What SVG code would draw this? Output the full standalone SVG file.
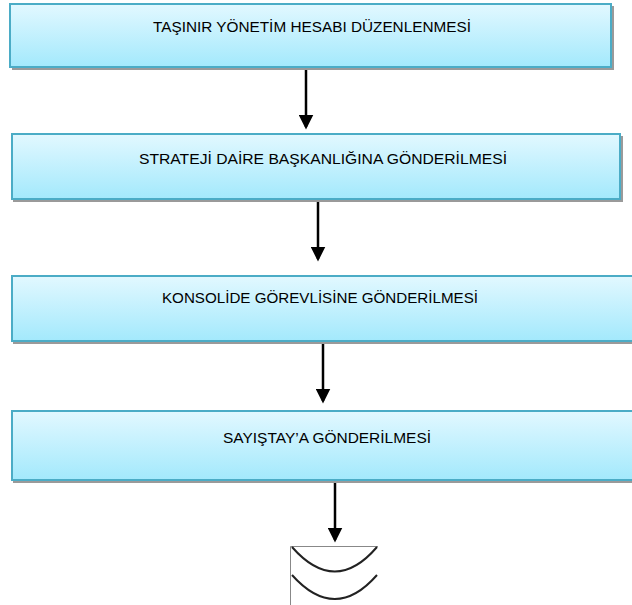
<svg xmlns="http://www.w3.org/2000/svg" width="632" height="605" viewBox="0 0 632 605">
<style>
.box{fill:url(#g);stroke:#4bacc6;stroke-width:2}
.sh{fill:#9a9a9a}
.t{font-family:"Liberation Sans","Open Sans",sans-serif;font-size:15px;fill:#000;text-anchor:middle}
.c{stroke:#000;stroke-width:2.5;fill:none}
</style>
<defs>
<linearGradient id="g" x1="0" y1="0" x2="0" y2="1">
<stop offset="0" stop-color="#e2f8ff"/>
<stop offset="1" stop-color="#a3e9fc"/>
</linearGradient>
<marker id="ah" markerWidth="6" markerHeight="6" refX="5" refY="3" orient="auto" markerUnits="strokeWidth" viewBox="0 0 6 6">
<path d="M0,0 L6,3 L0,6 Z" fill="#000"/>
</marker>
</defs>
<g id="n1">
<rect class="sh" x="12" y="6" width="602" height="64"/>
<rect class="box" x="10" y="4" width="601" height="63"/>
<text class="t" x="312" y="32" textLength="318" lengthAdjust="spacingAndGlyphs">TAŞINIR YÖNETİM HESABI DÜZENLENMESİ</text>
</g>
<g id="n2">
<rect class="sh" x="13" y="136" width="610" height="66"/>
<rect class="box" x="12" y="134" width="608" height="65"/>
<text class="t" x="323" y="164" textLength="368" lengthAdjust="spacingAndGlyphs">STRATEJİ DAİRE BAŞKANLIĞINA GÖNDERİLMESİ</text>
</g>
<g id="n3">
<rect class="sh" x="13" y="278" width="622" height="66"/>
<rect class="box" x="12" y="276" width="624" height="65"/>
<text class="t" x="320" y="303" textLength="316" lengthAdjust="spacingAndGlyphs">KONSOLİDE GÖREVLİSİNE GÖNDERİLMESİ</text>
</g>
<g id="n4">
<rect class="sh" x="13" y="413" width="622" height="70"/>
<rect class="box" x="12" y="411" width="624" height="69"/>
<text class="t" x="327" y="443" textLength="208" lengthAdjust="spacingAndGlyphs">SAYIŞTAY’A GÖNDERİLMESİ</text>
</g>
<g id="connectors">
<line class="c" x1="306" y1="70" x2="306" y2="127" marker-end="url(#ah)"/>
<line class="c" x1="318" y1="202" x2="318" y2="259" marker-end="url(#ah)"/>
<line class="c" x1="323" y1="344" x2="323" y2="401" marker-end="url(#ah)"/>
<line class="c" x1="335" y1="483" x2="335" y2="540" marker-end="url(#ah)"/>
</g>
<g id="offpage">
<path d="M290.5,605 V546.5 H378" fill="none" stroke="#888" stroke-width="1"/>
<path d="M292,547 Q335,596 377,547" fill="none" stroke="#222" stroke-width="2"/>
<path d="M292,575 Q335,623 377,575" fill="none" stroke="#222" stroke-width="2"/>
</g>
</svg>
